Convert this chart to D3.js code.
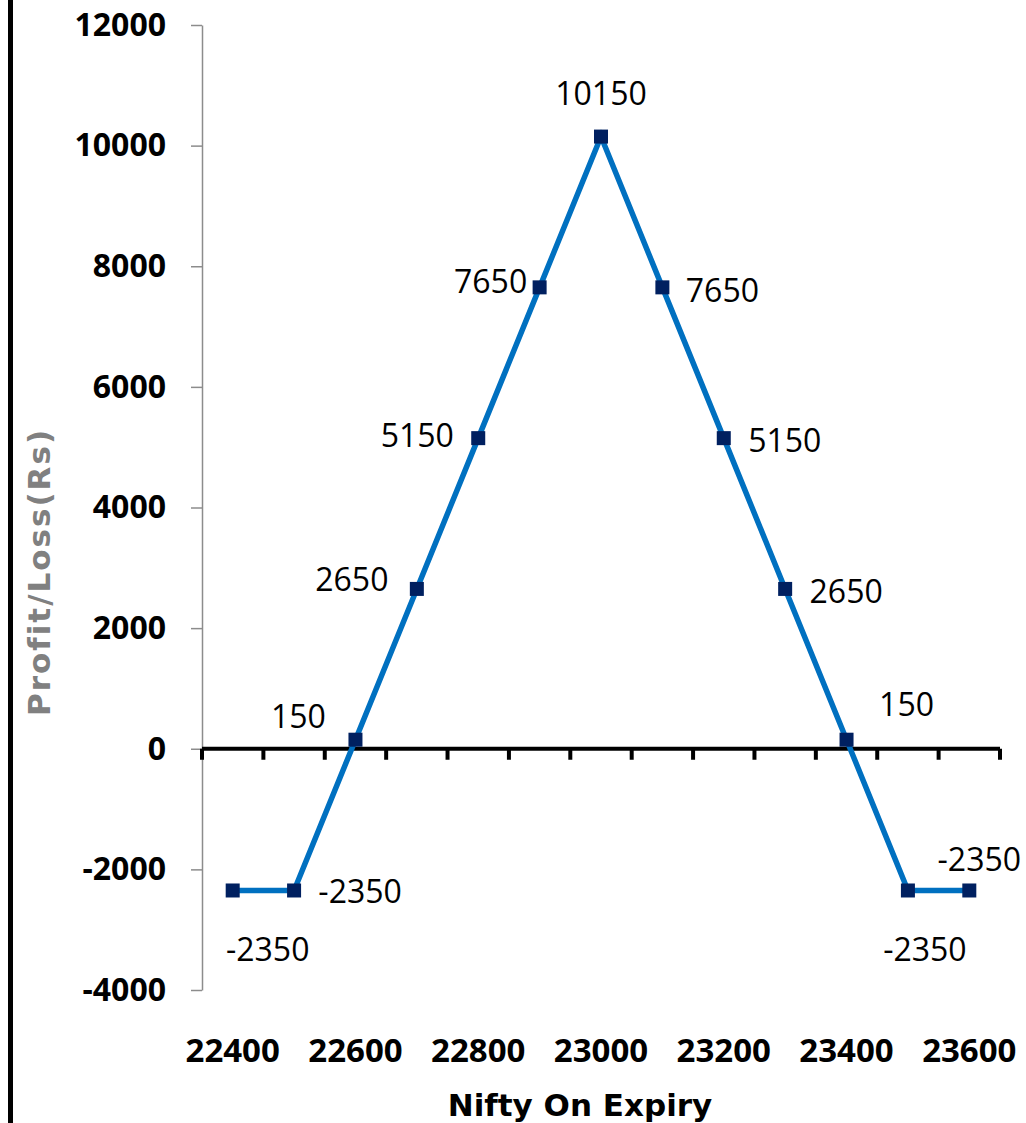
<!DOCTYPE html>
<html lang="en">
<head>
<meta charset="utf-8" />
<title>Nifty payoff</title>
<script src="https://d3js.org/d3.v7.min.js"></script>
<style>
  body { margin: 0; background: #fff; }
  svg { display: block; }
  .ylab text { font-family: "Open Sans", sans-serif; font-weight: bold; font-size: 32px; fill: #000; }
  .xlab { font-family: "Open Sans", sans-serif; font-weight: bold; font-size: 33px; fill: #000; }
  .dlab { font-family: "Open Sans", sans-serif; font-size: 32px; fill: #000; }
  .title { font-family: "DejaVu Sans", sans-serif; font-weight: bold; font-size: 31px; }
</style>
</head>
<body>
<div id="chart"></div>
<script>
// categories and values
var strikes = ["22400","22500","22600","22700","22800","22900","23000","23100","23200","23300","23400","23500","23600"];
var payoff = [-2350, -2350, 150, 2650, 5150, 7650, 10150, 7650, 5150, 2650, 150, -2350, -2350];
var yTicks = [-4000, -2000, 0, 2000, 4000, 6000, 8000, 10000, 12000];
var xLabels = ["22400","22600","22800","23000","23200","23400","23600"];

// where each value label sits relative to its point (layout only)
var labelOffsets = [[35,60],[66,2],[-57,-23],[-65,-9],[-61,-2],[-49,-5],[0,-43],[60,4],[61,3],[61,3],[60,-35],[17,60],[10,-30]];

var width = 1026, height = 1123;
var plotLeft = 202, plotRight = 1000, plotTop = 25, plotBottom = 990;

var svg = d3.select("#chart").append("svg")
  .attr("width", width)
  .attr("height", height);

var x = d3.scaleBand().domain(strikes).range([plotLeft, plotRight]).paddingInner(0).paddingOuter(0);
var y = d3.scaleLinear().domain([-4000, 12000]).range([plotBottom, plotTop]);

// black frame line on the left
svg.append("line")
  .attr("x1", 10.5).attr("x2", 10.5)
  .attr("y1", 0).attr("y2", height)
  .attr("stroke", "#000").attr("stroke-width", 5);

// y axis (plain hyphen for negatives, like the original)
var yAxis = d3.axisLeft(y).tickValues(yTicks).tickFormat(function(d) { return String(d); })
  .tickSize(11).tickPadding(25).tickSizeOuter(0);
var gy = svg.append("g")
  .attr("class", "ylab")
  .attr("transform", "translate(" + plotLeft + ",0)")
  .call(yAxis);
gy.select(".domain").attr("stroke", "#8c8c8c").attr("stroke-width", 1.5);
gy.selectAll(".tick line").attr("stroke", "#8c8c8c").attr("stroke-width", 1.5);

// zero line with category ticks
var zeroY = y(0);
svg.append("line")
  .attr("x1", plotLeft).attr("x2", plotRight)
  .attr("y1", zeroY).attr("y2", zeroY)
  .attr("stroke", "#000").attr("stroke-width", 4);

var bounds = strikes.map(function(d) { return x(d); }).concat([x.range()[1]]);
svg.selectAll(".xtick")
  .data(bounds)
  .enter().append("line")
  .attr("x1", function(d) { return d; })
  .attr("x2", function(d) { return d; })
  .attr("y1", zeroY)
  .attr("y2", zeroY + 11)
  .attr("stroke", "#000")
  .attr("stroke-width", 4);

// category labels at the bottom
svg.selectAll(".xlab")
  .data(xLabels)
  .enter().append("text")
  .attr("class", "xlab")
  .attr("x", function(d) { return x(d) + x.bandwidth() / 2; })
  .attr("y", 1062)
  .attr("text-anchor", "middle")
  .text(function(d) { return d; });

// series line
var pts = strikes.map(function(s, i) { return { s: s, v: payoff[i], i: i }; });
var line = d3.line()
  .x(function(d) { return x(d.s) + x.bandwidth() / 2; })
  .y(function(d) { return y(d.v); });

svg.append("path")
  .datum(pts)
  .attr("d", line)
  .attr("fill", "none")
  .attr("stroke", "#0070c0")
  .attr("stroke-width", 5.5);

// markers
svg.selectAll(".mk")
  .data(pts)
  .enter().append("rect")
  .attr("x", function(d) { return x(d.s) + x.bandwidth() / 2 - 7; })
  .attr("y", function(d) { return y(d.v) - 7; })
  .attr("width", 14)
  .attr("height", 14)
  .attr("fill", "#002060");

// value labels
svg.selectAll(".dlab")
  .data(pts)
  .enter().append("text")
  .attr("class", "dlab")
  .attr("x", function(d) { return x(d.s) + x.bandwidth() / 2 + labelOffsets[d.i][0]; })
  .attr("y", function(d) { return y(d.v) + labelOffsets[d.i][1] + 11; })
  .attr("text-anchor", "middle")
  .text(function(d) { return d.v; });

// axis titles
svg.append("text")
  .attr("class", "title")
  .attr("x", 580)
  .attr("y", 1116)
  .attr("text-anchor", "middle")
  .attr("fill", "#000")
  .text("Nifty On Expiry");

svg.append("text")
  .attr("class", "title")
  .attr("transform", "translate(50,572) rotate(-90)")
  .attr("text-anchor", "middle")
  .attr("fill", "#808080")
  .attr("letter-spacing", 2)
  .text("Profit/Loss(Rs)");
</script>
</body>
</html>
